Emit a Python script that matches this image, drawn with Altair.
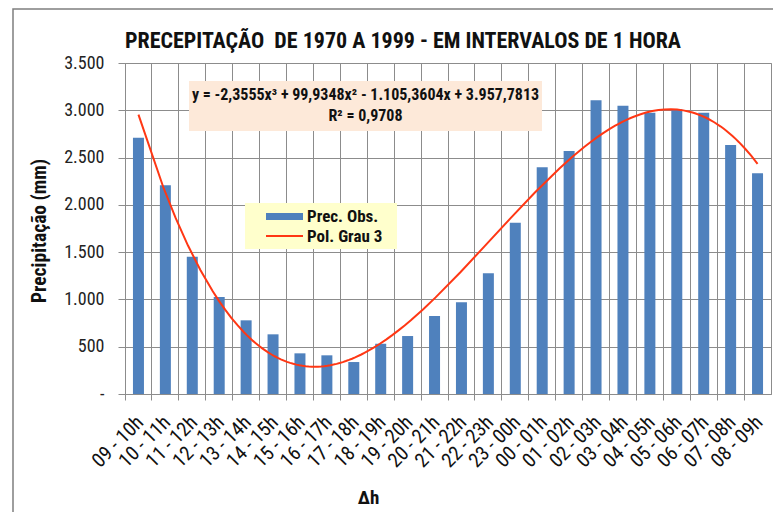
import altair as alt
import pandas as pd

categories = ["09 - 10h", "10 - 11h", "11 - 12h", "12 - 13h", "13 - 14h", "14 - 15h",
              "15 - 16h", "16 - 17h", "17 - 18h", "18 - 19h", "19 - 20h", "20 - 21h",
              "21 - 22h", "22 - 23h", "23 - 00h", "00 - 01h", "01 - 02h", "02 - 03h",
              "03 - 04h", "04 - 05h", "05 - 06h", "06 - 07h", "07 - 08h", "08 - 09h"]
values = [2710, 2207, 1452, 1026, 779, 631, 430, 409, 338, 532, 613, 825,
          970, 1276, 1811, 2397, 2569, 3106, 3049, 2975, 3010, 2975, 2633, 2334]
index = list(range(1, 25))
y_ticks = [0, 500, 1000, 1500, 2000, 2500, 3000, 3500]

title_text = "PRECEPITAÇÃO\u00a0 DE 1970 A 1999 - EM INTERVALOS DE 1 HORA"
eq_line1 = "y = -2,3555x³ + 99,9348x² - 1.105,3604x + 3.957,7813"
eq_line2 = "R² = 0,9708"
legend_labels = ["Prec. Obs.", "Pol. Grau 3"]

df = pd.DataFrame({"cat": categories, "val": values, "idx": index})

W, H = 646, 331
FONT = "Liberation Sans Narrow, Arial Narrow, Roboto Condensed, Roboto, sans-serif"
GRID = "#8c8c8c"
BLUE = "#4F81BD"
RED = "#FF3714"

yscale = alt.Scale(domain=[0, 3500], nice=False)
yaxis = alt.Axis(title="Precipitação (mm)", values=y_ticks,
                 labelExpr="datum.value == 0 ? '-' : replace(format(datum.value, ','), ',', '.')",
                 labelFont=FONT, labelFontSize=18, labelColor="#222",
                 labelPadding=14, tickSize=7, tickColor=GRID, domainColor=GRID,
                 grid=True, gridColor=GRID, gridWidth=1,
                 titleFont=FONT, titleFontSize=19.5, titleFontWeight="bold",
                 titleX=-86, titleY=H / 2 + 2, titleBaseline="middle", titleColor="#111")

bars = alt.Chart(df).mark_bar(color=BLUE, width=11).encode(
    x=alt.X("cat:N", sort=categories,
            scale=alt.Scale(paddingInner=0, paddingOuter=0),
            axis=alt.Axis(title="Δh", bandPosition=0, labelOffset=2,
                          labelAngle=-45, labelAlign="right", labelBaseline="middle",
                          labelFont=FONT, labelFontSize=20, labelColor="#111",
                          labelPadding=19, tickSize=6, tickColor=GRID, domainColor=GRID,
                          grid=True, gridColor=GRID, gridWidth=1,
                          titleFont=FONT, titleFontSize=19, titleFontWeight="bold",
                          titleX=243, titleY=103, titleBaseline="middle", titleColor="#111")),
    y=alt.Y("val:Q", scale=yscale, axis=yaxis),
)

line = alt.Chart(df).transform_regression(
    "idx", "val", method="poly", order=3, extent=[1, 24]
).mark_line(color=RED, strokeWidth=2).encode(
    x=alt.X("idx:Q", scale=alt.Scale(domain=[0.5, 24.5], nice=False, zero=False), axis=None),
    y=alt.Y("val:Q", scale=yscale, axis=yaxis),
)

one = alt.Data(values=[{}])

border = alt.Chart(one).mark_rect(fillOpacity=0, stroke="#7f7f7f", strokeWidth=1.5).encode(
    x=alt.value(-112), x2=alt.value(900), y=alt.value(-54), y2=alt.value(700))

title = alt.Chart(one).mark_text(text=title_text, font=FONT, fontSize=22, fontWeight="bold",
                                 align="left", baseline="middle", color="#111").encode(
    x=alt.value(0), y=alt.value(-22))

eq_box = alt.Chart(one).mark_rect(fill="#FDE9D9").encode(
    x=alt.value(64), x2=alt.value(417), y=alt.value(18), y2=alt.value(68))
eq_t1 = alt.Chart(one).mark_text(text=eq_line1, font=FONT, fontSize=16, fontWeight="bold",
                                 align="center", baseline="middle", color="#111").encode(
    x=alt.value(240.5), y=alt.value(32))
eq_t2 = alt.Chart(one).mark_text(text=eq_line2, font=FONT, fontSize=16, fontWeight="bold",
                                 align="center", baseline="middle", color="#111").encode(
    x=alt.value(240.5), y=alt.value(53))

lg_box = alt.Chart(one).mark_rect(fill="#FFFFCC").encode(
    x=alt.value(120), x2=alt.value(272), y=alt.value(140), y2=alt.value(186))
lg_sw = alt.Chart(one).mark_rect(fill=BLUE).encode(
    x=alt.value(141), x2=alt.value(178), y=alt.value(150), y2=alt.value(157))
lg_ln = alt.Chart(one).mark_rule(color=RED, strokeWidth=2).encode(
    x=alt.value(141), x2=alt.value(178), y=alt.value(173))
lg_t1 = alt.Chart(one).mark_text(text=legend_labels[0], font=FONT, fontSize=17, fontWeight="bold",
                                 align="left", baseline="middle", color="#111").encode(
    x=alt.value(182), y=alt.value(154))
lg_t2 = alt.Chart(one).mark_text(text=legend_labels[1], font=FONT, fontSize=17, fontWeight="bold",
                                 align="left", baseline="middle", color="#111").encode(
    x=alt.value(182), y=alt.value(174))

chart = alt.layer(
    bars, line, border, title, eq_box, eq_t1, eq_t2, lg_box, lg_sw, lg_ln, lg_t1, lg_t2
).resolve_scale(x="independent").properties(
    width=W, height=H,
    autosize=alt.AutoSizeParams(type="none"),
    padding={"left": 117, "top": 55, "right": 2, "bottom": 125},
).configure_view(stroke=GRID, strokeWidth=1)

chart.save("out.html", embed_options={"renderer": "svg", "actions": False})
